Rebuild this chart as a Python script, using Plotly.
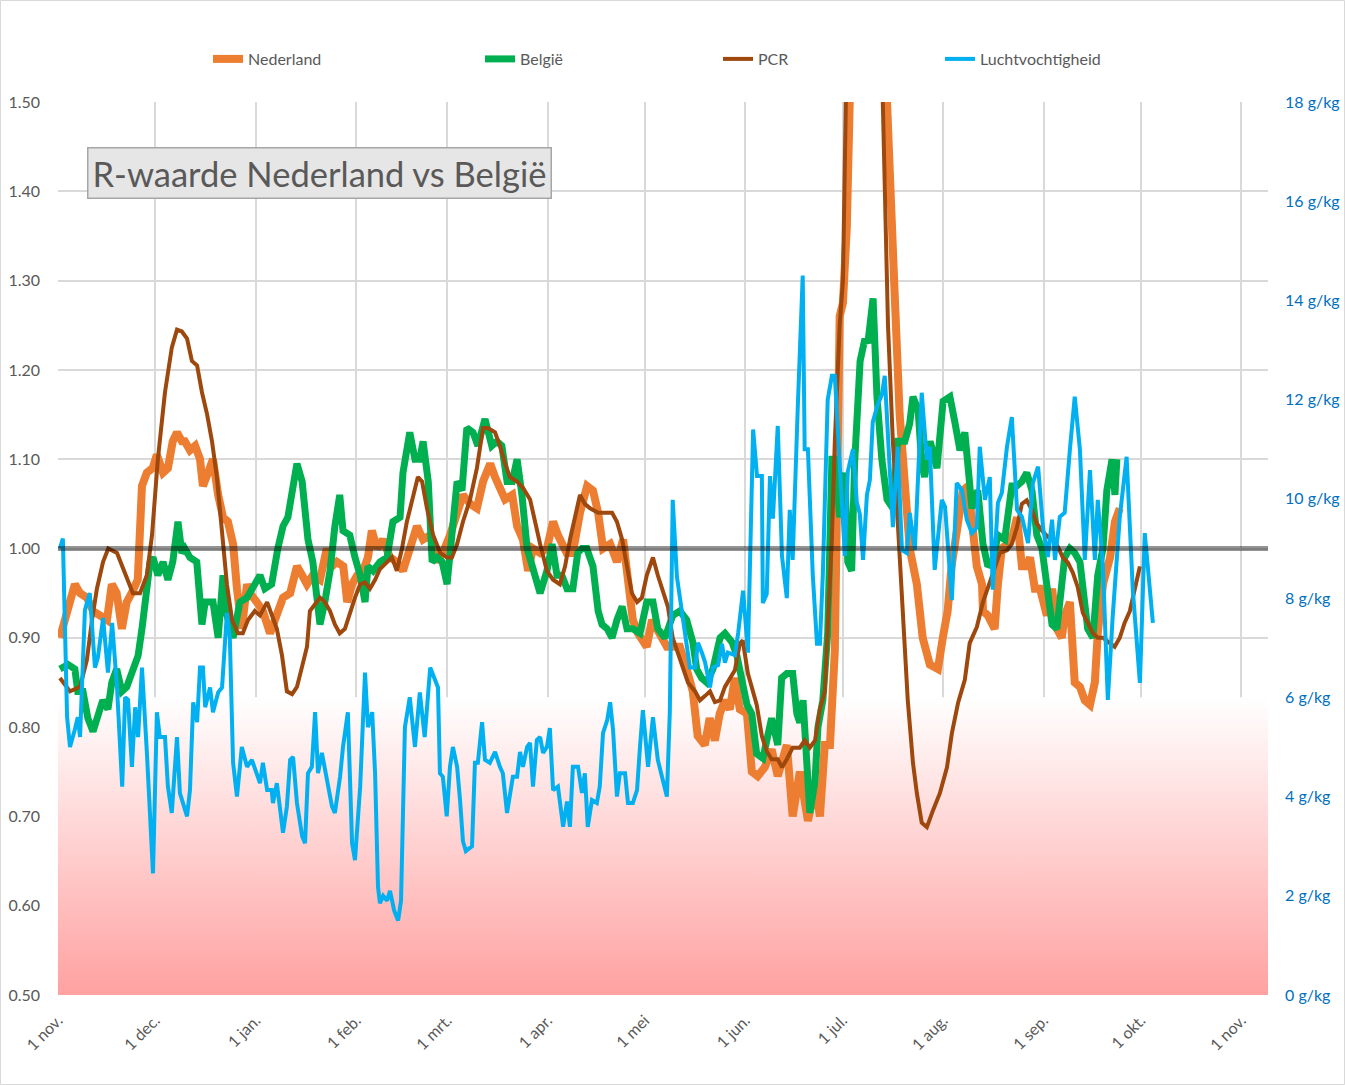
import pandas as pd
import plotly.graph_objects as go

START = pd.Timestamp("2020-11-01")
END = pd.Timestamp("2021-11-09 05:00")

# ---------------- data (days since 1 Nov 2020) ----------------
nl_days = [0.6, 5.2, 6.8, 8.9, 10.8, 12.9, 15.1, 16.6, 18.1, 19.7, 21.2, 22.7, 24.6, 25.9, 27.4, 29.2, 30.5, 32.4,
           33.9, 35.4, 36.7, 38.2, 39.1, 40.7, 42.3, 43.8, 44.7, 46.3, 47.8, 49.4, 50.9, 52.4, 54.0, 55.2, 56.7, 58.3,
           59.2, 61.3, 63.2, 65.4, 67.5, 69.4, 71.6, 73.7, 75.3, 76.8, 78.6, 80.8, 82.9, 84.5, 86.0, 88.0, 89.2, 90.7,
           92.3, 94.1, 95.6, 96.8, 98.4, 100.2, 102.4, 104.5, 106.4, 108.5, 110.7, 112.6, 114.8, 116.9, 118.7, 120.9,
           123.1, 124.9, 127.1, 129.2, 131.1, 133.3, 134.8, 136.3, 137.9, 140.1, 141.6, 143.4, 145.0, 146.5, 148.7,
           150.8, 152.7, 154.2, 156.9, 158.8, 161.0, 163.2, 165.0, 166.6, 168.1, 170.3, 172.4, 174.3, 175.5, 177.3,
           178.9, 181.6, 183.2, 185.6, 187.8, 189.6, 191.8, 193.9, 195.8, 197.3, 199.5, 201.0, 202.6, 204.1, 205.7,
           207.2, 208.8, 210.3, 212.5, 214.0, 215.8, 218.0, 220.1, 222.0, 224.8, 226.6, 228.8, 231.3, 233.5, 235.0,
           236.5, 238.1, 238.7, 239.6, 240.2, 240.5, 241.1, 242.1, 243.3, 244.2, 249.8, 255.7, 256.6, 258.0, 259.6,
           261.2, 262.7, 264.9, 266.7, 268.9, 271.4, 272.9, 274.4, 275.6, 277.6, 279.1, 280.7, 281.9, 283.4, 285.0,
           285.3, 286.8, 288.9, 289.9, 291.1, 292.9, 294.5, 295.8, 297.3, 298.8, 299.8, 301.3, 302.9, 305.0, 306.6,
           308.1, 309.6, 310.5, 312.1, 313.6, 315.2, 316.7, 318.3, 319.8, 320.7, 322.3, 324.5, 326.0, 327.5]
nl_r = [0.90, 0.96, 0.95, 0.945, 0.93, 0.925, 0.92, 0.96, 0.95, 0.91, 0.94, 0.95, 0.965, 1.07, 1.085, 1.09, 1.105,
        1.085, 1.09, 1.12, 1.13, 1.12, 1.12, 1.11, 1.115, 1.10, 1.07, 1.085, 1.10, 1.06, 1.035, 1.03, 1.005, 0.955,
        0.91, 0.96, 0.95, 0.94, 0.93, 0.905, 0.93, 0.945, 0.95, 0.98, 0.97, 0.96, 0.97, 0.965, 1.0, 0.98, 0.985,
        0.98, 0.94, 0.96, 0.97, 0.975, 0.99, 1.02, 1.0, 1.01, 0.99, 0.985, 0.975, 1.0, 1.025, 1.01, 1.015, 0.985,
        0.995, 1.015, 1.04, 1.06, 1.05, 1.045, 1.075, 1.095, 1.08, 1.07, 1.055, 1.06, 1.025, 1.01, 0.975, 1.0,
        0.995, 1.0, 1.03, 1.015, 0.995, 0.995, 1.04, 1.07, 1.065, 1.04, 1.0, 1.005, 0.985, 1.01, 0.965, 0.92,
        0.905, 0.89, 0.92, 0.905, 0.89, 0.89, 0.89, 0.865, 0.84, 0.79, 0.78, 0.81, 0.785, 0.815, 0.83, 0.82, 0.855,
        0.82, 0.815, 0.75, 0.745, 0.755, 0.775, 0.745, 0.78, 0.70, 0.75, 0.695, 0.735, 0.70, 0.78, 0.78, 0.82,
        0.885, 1.035, 1.205, 1.26, 1.275, 1.36, 1.50, 2.0, 1.50, 1.40, 1.29, 1.15, 1.06, 1.0, 0.96, 0.90, 0.87,
        0.865, 0.90, 0.93, 0.98, 1.035, 1.065, 1.07, 1.03, 0.98, 0.96, 0.93, 0.925, 0.91, 0.96, 1.0, 1.005, 1.015,
        1.035, 0.98, 0.98, 0.99, 0.955, 0.955, 0.925, 0.955, 0.91, 0.90, 0.925, 0.94, 0.85, 0.845, 0.83, 0.825,
        0.85, 0.905, 0.96, 0.99, 1.03, 1.045]

be_days = [0.6, 3.1, 5.2, 6.1, 7.7, 9.2, 10.8, 12.3, 13.8, 15.4, 16.6, 18.1, 19.7, 21.2, 23.1, 24.7, 25.9, 27.4,
           28.4, 29.3, 30.8, 32.4, 33.9, 35.4, 37.0, 38.2, 39.1, 40.7, 42.8, 44.4, 45.4, 47.8, 49.4, 50.9, 52.1, 54.0,
           56.1, 58.3, 60.1, 62.3, 63.8, 65.9, 67.8, 69.4, 70.9, 72.5, 73.7, 75.3, 76.2, 77.1, 78.6, 80.8, 82.3, 83.9,
           85.4, 86.9, 87.9, 90.0, 91.6, 93.2, 94.7, 95.6, 97.2, 99.3, 101.5, 103.3, 105.5, 106.4, 108.5, 110.1,
           111.6, 112.6, 114.2, 115.4, 116.9, 118.5, 120.0, 121.5, 123.1, 124.6, 126.1, 128.0, 129.5, 131.7, 133.8,
           135.4, 136.9, 138.5, 140.1, 141.6, 143.1, 144.7, 146.5, 148.7, 150.8, 152.4, 153.9, 155.4, 157.0, 158.8,
           160.3, 161.6, 163.1, 165.0, 166.6, 167.8, 169.4, 170.9, 172.4, 174.0, 175.5, 177.3, 179.5, 181.6, 183.5,
           185.0, 187.2, 189.6, 191.8, 193.9, 195.8, 197.0, 198.5, 200.1, 202.0, 204.2, 205.7, 207.9, 209.4, 210.9,
           212.5, 214.0, 215.5, 217.4, 218.9, 220.1, 222.0, 223.2, 224.8, 226.6, 227.9, 228.8, 229.8, 231.0, 231.9,
           233.5, 234.4, 235.9, 237.4, 238.7, 239.6, 241.1, 242.7, 243.6, 244.8, 245.7, 247.4, 248.9, 249.8, 251.4,
           252.6, 254.1, 255.7, 257.5, 259.0, 261.2, 262.7, 263.7, 265.3, 266.4, 267.3, 269.0, 271.1, 273.0, 275.1,
           276.7, 278.2, 279.7, 280.7, 281.9, 283.7, 285.3, 286.8, 288.3, 289.9, 292.0, 294.2, 295.7, 297.3, 298.8,
           300.4, 301.9, 303.5, 305.0, 306.6, 308.1, 309.0, 310.5, 312.1, 313.6, 315.2, 316.7, 317.6, 319.2, 320.7,
           322.3, 323.5, 325.1, 326.0, 326.6]
be_r = [0.865, 0.87, 0.865, 0.84, 0.84, 0.81, 0.795, 0.81, 0.83, 0.82, 0.85, 0.865, 0.84, 0.845, 0.865, 0.88, 0.91,
        0.95, 0.985, 0.99, 0.97, 0.985, 0.965, 0.985, 1.03, 0.995, 1.0, 0.99, 0.985, 0.915, 0.94, 0.94, 0.90, 0.97,
        0.925, 0.90, 0.94, 0.945, 0.955, 0.97, 0.955, 0.96, 1.0, 1.025, 1.035, 1.07, 1.095, 1.075, 1.045, 1.01,
        0.985, 0.915, 0.94, 0.975, 1.025, 1.06, 1.02, 1.015, 0.99, 0.97, 0.94, 0.98, 0.975, 0.985, 0.99, 1.03,
        1.035, 1.085, 1.13, 1.10, 1.10, 1.12, 1.075, 0.985, 0.99, 0.985, 0.96, 1.015, 1.075, 1.065, 1.135, 1.13,
        1.115, 1.145, 1.115, 1.12, 1.115, 1.075, 1.075, 1.10, 1.06, 1.0, 0.98, 0.95, 0.975, 1.005, 0.97, 0.97,
        0.955, 0.955, 0.995, 1.0, 1.0, 0.98, 0.93, 0.915, 0.91, 0.90, 0.92, 0.935, 0.91, 0.91, 0.905, 0.94, 0.94,
        0.91, 0.90, 0.925, 0.93, 0.92, 0.895, 0.865, 0.855, 0.85, 0.865, 0.90, 0.905, 0.895, 0.88, 0.855, 0.825,
        0.815, 0.77, 0.765, 0.79, 0.81, 0.78, 0.855, 0.86, 0.86, 0.815, 0.805, 0.83, 0.75, 0.704, 0.74, 0.80, 0.83,
        0.905, 1.10, 1.10, 1.035, 1.085, 0.985, 0.975, 1.095, 1.21, 1.235, 1.23, 1.28, 1.17, 1.10, 1.055, 1.045,
        1.12, 1.12, 1.14, 1.17, 1.155, 1.095, 1.08, 1.12, 1.09, 1.165, 1.17, 1.14, 1.11, 1.13, 1.08, 1.045, 1.065,
        1.005, 0.98, 0.985, 1.015, 1.01, 1.07, 1.07, 1.075, 1.085, 1.065, 1.015, 1.0, 0.96, 0.915, 0.91, 0.94, 0.99,
        1.0, 0.995, 0.985, 0.945, 0.91, 0.90, 0.97, 1.0, 1.065, 1.10, 1.06, 1.10]

pcr_days = [0.6, 3.7, 6.8, 8.9, 10.5, 12.0, 13.9, 15.5, 18.2, 19.8, 21.3, 23.1, 25.3, 27.4, 29.0, 30.8, 33.0, 35.1,
            36.7, 38.2, 39.8, 41.3, 42.9, 44.4, 46.0, 47.5, 49.0, 50.6, 52.1, 53.7, 55.5, 57.0, 58.6, 60.7, 62.3,
            64.5, 66.0, 67.5, 69.1, 70.6, 72.2, 73.7, 75.3, 76.8, 77.7, 79.9, 80.8, 82.3, 83.9, 85.4, 86.9, 88.5,
            90.1, 91.6, 93.2, 94.7, 96.2, 97.8, 99.3, 101.5, 103.0, 104.5, 106.1, 107.6, 109.5, 111.0, 112.3, 113.8,
            115.7, 117.9, 120.0, 121.5, 123.1, 124.9, 127.1, 129.2, 131.1, 132.6, 134.8, 136.3, 137.9, 139.4, 141.6,
            143.4, 145.6, 147.1, 148.7, 150.8, 152.7, 154.8, 156.4, 157.9, 159.4, 161.0, 162.5, 164.1, 166.6, 169.4,
            170.9, 172.4, 174.0, 175.5, 177.0, 178.6, 180.1, 181.6, 183.5, 185.0, 186.6, 188.1, 189.6, 191.2, 192.7,
            194.3, 196.5, 198.0, 199.6, 201.1, 202.6, 204.2, 205.7, 207.3, 208.8, 210.3, 211.2, 212.8, 214.0, 215.5,
            217.1, 218.6, 220.1, 222.0, 223.3, 224.8, 226.6, 228.8, 230.3, 231.9, 233.5, 235.0, 236.5, 237.4, 238.7,
            239.6, 241.1, 242.1, 243.0, 249.0, 254.4, 256.0, 257.5, 259.0, 260.6, 262.1, 263.7, 264.9, 266.4, 268.0,
            269.9, 272.0, 274.2, 275.7, 277.6, 279.7, 281.2, 283.4, 285.3, 286.8, 288.3, 290.5, 292.7, 294.2, 295.8,
            297.3, 298.8, 300.4, 301.9, 303.5, 305.3, 306.9, 308.4, 309.9, 311.5, 313.0, 314.5, 316.1, 317.6, 319.2,
            320.7, 322.3, 324.4, 325.9, 327.5, 329.0, 330.6, 332.2, 333.7]
pcr_r = [0.855, 0.84, 0.845, 0.875, 0.92, 0.955, 0.985, 1.0, 0.995, 0.98, 0.965, 0.95, 0.95, 0.97, 1.015, 1.10,
         1.175, 1.225, 1.245, 1.243, 1.235, 1.21, 1.205, 1.175, 1.15, 1.12, 1.08, 1.015, 0.96, 0.92, 0.905, 0.905,
         0.92, 0.93, 0.925, 0.94, 0.925, 0.91, 0.88, 0.84, 0.837, 0.845, 0.868, 0.89, 0.93, 0.94, 0.945, 0.94, 0.93,
         0.915, 0.905, 0.91, 0.93, 0.945, 0.96, 0.962, 0.955, 0.965, 0.977, 0.985, 0.99, 0.975, 1.0, 1.03, 1.06,
         1.08, 1.075, 1.045, 1.015, 0.995, 0.99, 0.99, 1.005, 1.03, 1.055, 1.09, 1.135, 1.135, 1.13, 1.115, 1.095,
         1.08, 1.075, 1.068, 1.055, 1.03, 1.005, 0.975, 0.965, 0.96, 0.98, 1.01, 1.035, 1.06, 1.05, 1.045, 1.04,
         1.04, 1.04, 1.03, 1.01, 0.98, 0.95, 0.94, 0.945, 0.97, 0.99, 0.97, 0.95, 0.935, 0.90, 0.883, 0.865, 0.85,
         0.84, 0.83, 0.835, 0.84, 0.828, 0.83, 0.845, 0.855, 0.864, 0.894, 0.897, 0.86, 0.845, 0.825, 0.79, 0.773,
         0.764, 0.764, 0.755, 0.764, 0.777, 0.777, 0.785, 0.777, 0.785, 0.82, 0.84, 0.905, 1.013, 1.12, 1.25, 1.30,
         1.50, 1.95, 1.50, 1.25, 1.12, 1.03, 0.925, 0.83, 0.76, 0.726, 0.693, 0.688, 0.707, 0.726, 0.755, 0.793,
         0.827, 0.853, 0.894, 0.912, 0.94, 0.955, 0.973, 0.995, 0.998, 1.005, 1.024, 1.05, 1.054, 1.043, 1.028,
         1.02, 1.013, 1.01, 1.002, 0.99, 0.984, 0.973, 0.957, 0.928, 0.917, 0.905, 0.90, 0.90, 0.894, 0.89, 0.90,
         0.917, 0.93, 0.957, 0.98]

hum_days = [0.6, 1.5, 2.8, 3.7, 5.2, 6.1, 6.8, 8.3, 9.8, 11.4, 12.3, 13.9, 15.4, 16.7, 18.2, 19.8, 20.7, 21.6, 22.8,
            23.8, 24.7, 25.9, 27.4, 28.4, 29.3, 30.5, 31.4, 33.0, 33.9, 35.1, 36.7, 37.6, 39.8, 40.7, 41.7, 42.9,
            43.8, 44.7, 45.4, 46.9, 47.8, 49.4, 50.6, 52.1, 53.0, 54.0, 55.2, 56.7, 58.3, 59.8, 61.3, 62.3, 63.2,
            64.5, 65.9, 66.3, 67.5, 68.5, 69.4, 70.6, 71.6, 72.5, 73.7, 75.3, 76.2, 77.1, 78.3, 79.3, 80.2, 81.4,
            82.9, 84.5, 85.4, 87.0, 87.9, 89.4, 90.7, 91.6, 93.2, 94.7, 95.6, 96.9, 97.8, 98.7, 99.3, 100.3, 101.5,
            102.4, 103.7, 104.9, 105.8, 106.5, 107.0, 108.5, 110.1, 111.6, 113.1, 114.8, 116.3, 117.2, 117.8, 118.7,
            119.9, 120.9, 121.8, 123.1, 124.0, 124.9, 125.8, 127.7, 128.6, 129.5, 130.8, 131.7, 133.2, 134.8, 136.3,
            137.2, 138.5, 139.4, 140.3, 141.6, 142.5, 143.4, 144.7, 145.6, 146.5, 147.7, 148.7, 149.6, 150.8, 151.7,
            152.7, 154.2, 155.8, 157.0, 157.9, 158.8, 160.4, 161.6, 162.5, 163.4, 164.7, 166.2, 167.1, 168.1, 169.4,
            170.3, 171.2, 172.4, 173.3, 174.9, 175.8, 177.3, 178.6, 179.5, 180.4, 182.0, 183.5, 185.0, 186.6, 187.8,
            188.7, 189.6, 190.9, 192.4, 193.9, 194.9, 196.5, 197.4, 198.6, 199.6, 201.1, 202.0, 203.6, 204.8, 205.7,
            206.6, 208.8, 209.8, 211.3, 212.8, 214.4, 215.6, 217.1, 217.4, 218.6, 219.6, 220.5, 222.0, 223.3, 224.8,
            225.7, 226.6, 228.2, 229.7, 230.3, 231.3, 232.8, 234.1, 235.0, 235.9, 237.4, 238.7, 239.6, 240.5, 241.7,
            242.7, 243.6, 245.2, 246.4, 247.3, 248.3, 249.5, 250.4, 251.3, 252.6, 254.1, 255.0, 256.0, 257.5, 259.0,
            260.3, 261.8, 262.7, 264.3, 266.4, 268.0, 268.9, 270.4, 272.6, 273.6, 275.7, 277.2, 278.8, 280.3, 281.9,
            283.4, 284.3, 285.9, 287.4, 288.3, 289.9, 291.1, 292.7, 294.2, 295.8, 297.3, 299.2, 300.7, 302.3, 303.8,
            305.3, 306.6, 307.5, 309.0, 310.5, 312.1, 313.6, 315.2, 316.7, 318.3, 319.8, 320.7, 322.3, 323.8, 325.3,
            327.5, 329.6, 331.5, 333.7, 335.2, 337.7]
hum_gkg = [9.0, 9.2, 5.6, 5.0, 5.35, 5.6, 5.2, 7.76, 8.1, 6.6, 6.8, 7.6, 6.5, 7.5, 6.2, 4.2, 6.0, 5.95, 4.6, 5.8,
           5.2, 6.6, 4.9, 3.5, 2.45, 5.7, 5.2, 5.2, 4.2, 3.67, 5.2, 4.07, 3.6, 4.13, 5.9, 5.5, 6.6, 6.6, 5.8, 6.2,
           5.7, 6.1, 6.2, 7.7, 7.2, 4.68, 4.0, 5.0, 4.6, 4.74, 4.47, 4.27, 4.68, 4.13, 4.13, 3.87, 4.27, 3.73, 3.27,
           3.8, 4.74, 4.8, 3.87, 3.2, 3.06, 4.47, 4.6, 5.7, 4.47, 4.88, 4.4, 3.8, 3.67, 4.4, 5.0, 5.7, 3.06, 2.72,
           4.2, 6.5, 5.4, 5.7, 4.47, 2.18, 1.85, 2.0, 1.9, 2.1, 1.7, 1.5, 1.9, 4.0, 5.4, 6.0, 5.0, 6.1, 5.2, 6.6,
           6.35, 6.2, 4.47, 4.4, 3.6, 4.6, 5.0, 4.6, 3.93, 3.1, 2.9, 3.0, 4.68, 4.68, 5.5, 4.74, 4.68, 4.9, 4.6,
           4.47, 3.67, 4.07, 4.4, 4.4, 4.9, 4.6, 5.0, 5.08, 4.2, 5.14, 5.2, 4.88, 5.0, 5.38, 4.13, 4.2, 3.39, 3.9,
           3.39, 4.6, 4.6, 4.07, 4.47, 3.39, 3.93, 3.87, 4.2, 5.28, 5.54, 5.9, 5.34, 4.0, 4.47, 4.47, 3.87, 3.87,
           4.13, 5.0, 5.74, 4.6, 5.6, 4.74, 4.33, 4.0, 5.7, 9.98, 8.43, 7.7, 7.0, 6.6, 6.6, 7.1, 6.9, 6.7, 6.2, 6.6,
           6.65, 7.08, 6.7, 6.9, 6.85, 7.3, 8.15, 6.9, 11.4, 10.46, 10.46, 7.9, 8.08, 10.46, 9.6, 11.47, 8.85, 8.0,
           9.78, 8.77, 11.9, 14.5, 11.0, 11.0, 8.47, 7.08, 7.08, 8.47, 12.0, 12.48, 12.48, 11.47, 10.0, 8.85, 10.55,
           11.0, 9.92, 9.7, 8.77, 10.08, 10.38, 11.55, 11.85, 12.1, 12.48, 11.17, 9.43, 11.05, 8.97, 8.91, 9.72,
           8.97, 12.14, 10.79, 11.05, 8.57, 9.98, 9.84, 7.96, 10.32, 10.18, 9.58, 9.31, 9.43, 11.05, 9.98, 10.44,
           8.17, 9.92, 10.12, 11.05, 11.65, 9.78, 9.64, 9.11, 10.32, 10.65, 9.43, 8.83, 9.58, 8.77, 9.64, 9.72,
           10.99, 12.06, 10.99, 8.77, 10.58, 8.77, 9.98, 8.63, 5.95, 7.62, 9.64, 10.85, 8.17, 6.29, 9.31, 7.5]

month_ticks = ["2020-11-01", "2020-12-01", "2021-01-01", "2021-02-01", "2021-03-01", "2021-04-01", "2021-05-01",
               "2021-06-01", "2021-07-01", "2021-08-01", "2021-09-01", "2021-10-01", "2021-11-01"]
month_labels = ["1 nov.", "1 dec.", "1 jan.", "1 feb.", "1 mrt.", "1 apr.", "1 mei", "1 jun.", "1 jul.",
                "1 aug.", "1 sep.", "1 okt.", "1 nov."]
r_ticks = [0.5, 0.6, 0.7, 0.8, 0.9, 1.0, 1.1, 1.2, 1.3, 1.4, 1.5]
hum_ticks = [0, 2, 4, 6, 8, 10, 12, 14, 16, 18]
hum_labels = [f"{v} g/kg" for v in hum_ticks]

R_RANGE = [0.5, 1.5]
HUM_RANGE = [0, 18]
DRY_LIMIT_GKG = 6          # gradient band below 6 g/kg
R_REFERENCE = 1.0          # reference line

FONT = "Lato, 'Open Sans', sans-serif"
GREY_TXT = "#595959"


def to_dates(days):
    return START + pd.to_timedelta(pd.Series(days), unit="D")


# gradient band expressed on the primary axis (same plot height as 0..6 g/kg)
band_top = R_RANGE[0] + (R_RANGE[1] - R_RANGE[0]) * DRY_LIMIT_GKG / (HUM_RANGE[1] - HUM_RANGE[0])

fig = go.Figure()

fig.add_trace(go.Scatter(
    x=[START, END], y=[band_top, band_top], mode="lines", line=dict(width=0),
    fill="tozeroy",
    fillgradient=dict(type="vertical", start=R_RANGE[0], stop=band_top,
                      colorscale=[[0, "rgb(255,161,161)"], [1, "rgb(255,255,255)"]]),
    showlegend=False, hoverinfo="skip"))

fig.add_trace(go.Scatter(x=to_dates(nl_days), y=nl_r, name="Nederland", mode="lines",
                         line=dict(color="#ED7D31", width=8), legend="legend"))
fig.add_trace(go.Scatter(x=to_dates(be_days), y=be_r, name="België", mode="lines",
                         line=dict(color="#00B050", width=7), legend="legend2"))
fig.add_trace(go.Scatter(x=to_dates(pcr_days), y=pcr_r, name="PCR", mode="lines",
                         line=dict(color="#9E480E", width=4), legend="legend3"))
fig.add_trace(go.Scatter(x=to_dates(hum_days), y=hum_gkg, name="Luchtvochtigheid", mode="lines",
                         line=dict(color="#00B0F0", width=4), yaxis="y2", legend="legend4"))

W, H = 1345, 1085
ML, MR, MT, MB = 58, 77, 102, 90
PW, PH = W - ML - MR, H - MT - MB


def px_x(px):
    return (px - ML) / PW


def px_y(py):
    return (H - MB - py) / PH


legend_common = dict(orientation="h", yanchor="middle", xanchor="left", y=px_y(59),
                     bgcolor="rgba(0,0,0,0)", font=dict(family=FONT, size=16, color=GREY_TXT))

fig.update_layout(
    width=W, height=H, autosize=False,
    margin=dict(l=ML, r=MR, t=MT, b=MB, autoexpand=False),
    paper_bgcolor="white", plot_bgcolor="white",
    font=dict(family=FONT, size=16, color=GREY_TXT),
    xaxis=dict(type="date", range=[START, END], tickvals=month_ticks, ticktext=month_labels,
               tickangle=-45, showgrid=True, gridcolor="#D9D9D9", gridwidth=2, zeroline=False,
               showline=False, ticks="", ticklabelstandoff=12, automargin=False,
               tickfont=dict(family=FONT, size=16, color=GREY_TXT)),
    yaxis=dict(range=R_RANGE, tickvals=r_ticks, tickformat=".2f", showgrid=True, gridcolor="#D9D9D9",
               gridwidth=2, zeroline=False, showline=False, ticks="", ticklabelstandoff=17, automargin=False,
               tickfont=dict(family=FONT, size=16, color=GREY_TXT)),
    yaxis2=dict(range=HUM_RANGE, tickvals=hum_ticks, ticktext=hum_labels, overlaying="y", side="right",
                showgrid=False, zeroline=False, showline=False, ticks="", ticklabelstandoff=16,
                automargin=False, tickfont=dict(family=FONT, size=16, color="#0070C0")),
    legend=dict(x=px_x(208), **legend_common),
    legend2=dict(x=px_x(480), **legend_common),
    legend3=dict(x=px_x(718), **legend_common),
    legend4=dict(x=px_x(940), **legend_common),
    shapes=[
        dict(type="line", xref="paper", yref="y", x0=0, x1=1, y0=R_REFERENCE, y1=R_REFERENCE,
             line=dict(color="rgba(0,0,0,0.42)", width=5), layer="above"),
        dict(type="rect", xref="paper", yref="paper", x0=px_x(0.5), x1=px_x(W - 0.5),
             y0=px_y(H - 0.5), y1=px_y(0.5), line=dict(color="#D9D9D9", width=1), layer="below"),
    ],
    annotations=[
        dict(text="R-waarde Nederland vs België", xref="paper", yref="paper", x=px_x(87), y=px_y(147),
             xanchor="left", yanchor="top", showarrow=False, bgcolor="#E7E6E6", bordercolor="#A6A6A6",
             borderwidth=1.5, borderpad=4, font=dict(family=FONT, size=34.5, color=GREY_TXT)),
    ],
)

fig.write_html("out.html", config={"responsive": False})
